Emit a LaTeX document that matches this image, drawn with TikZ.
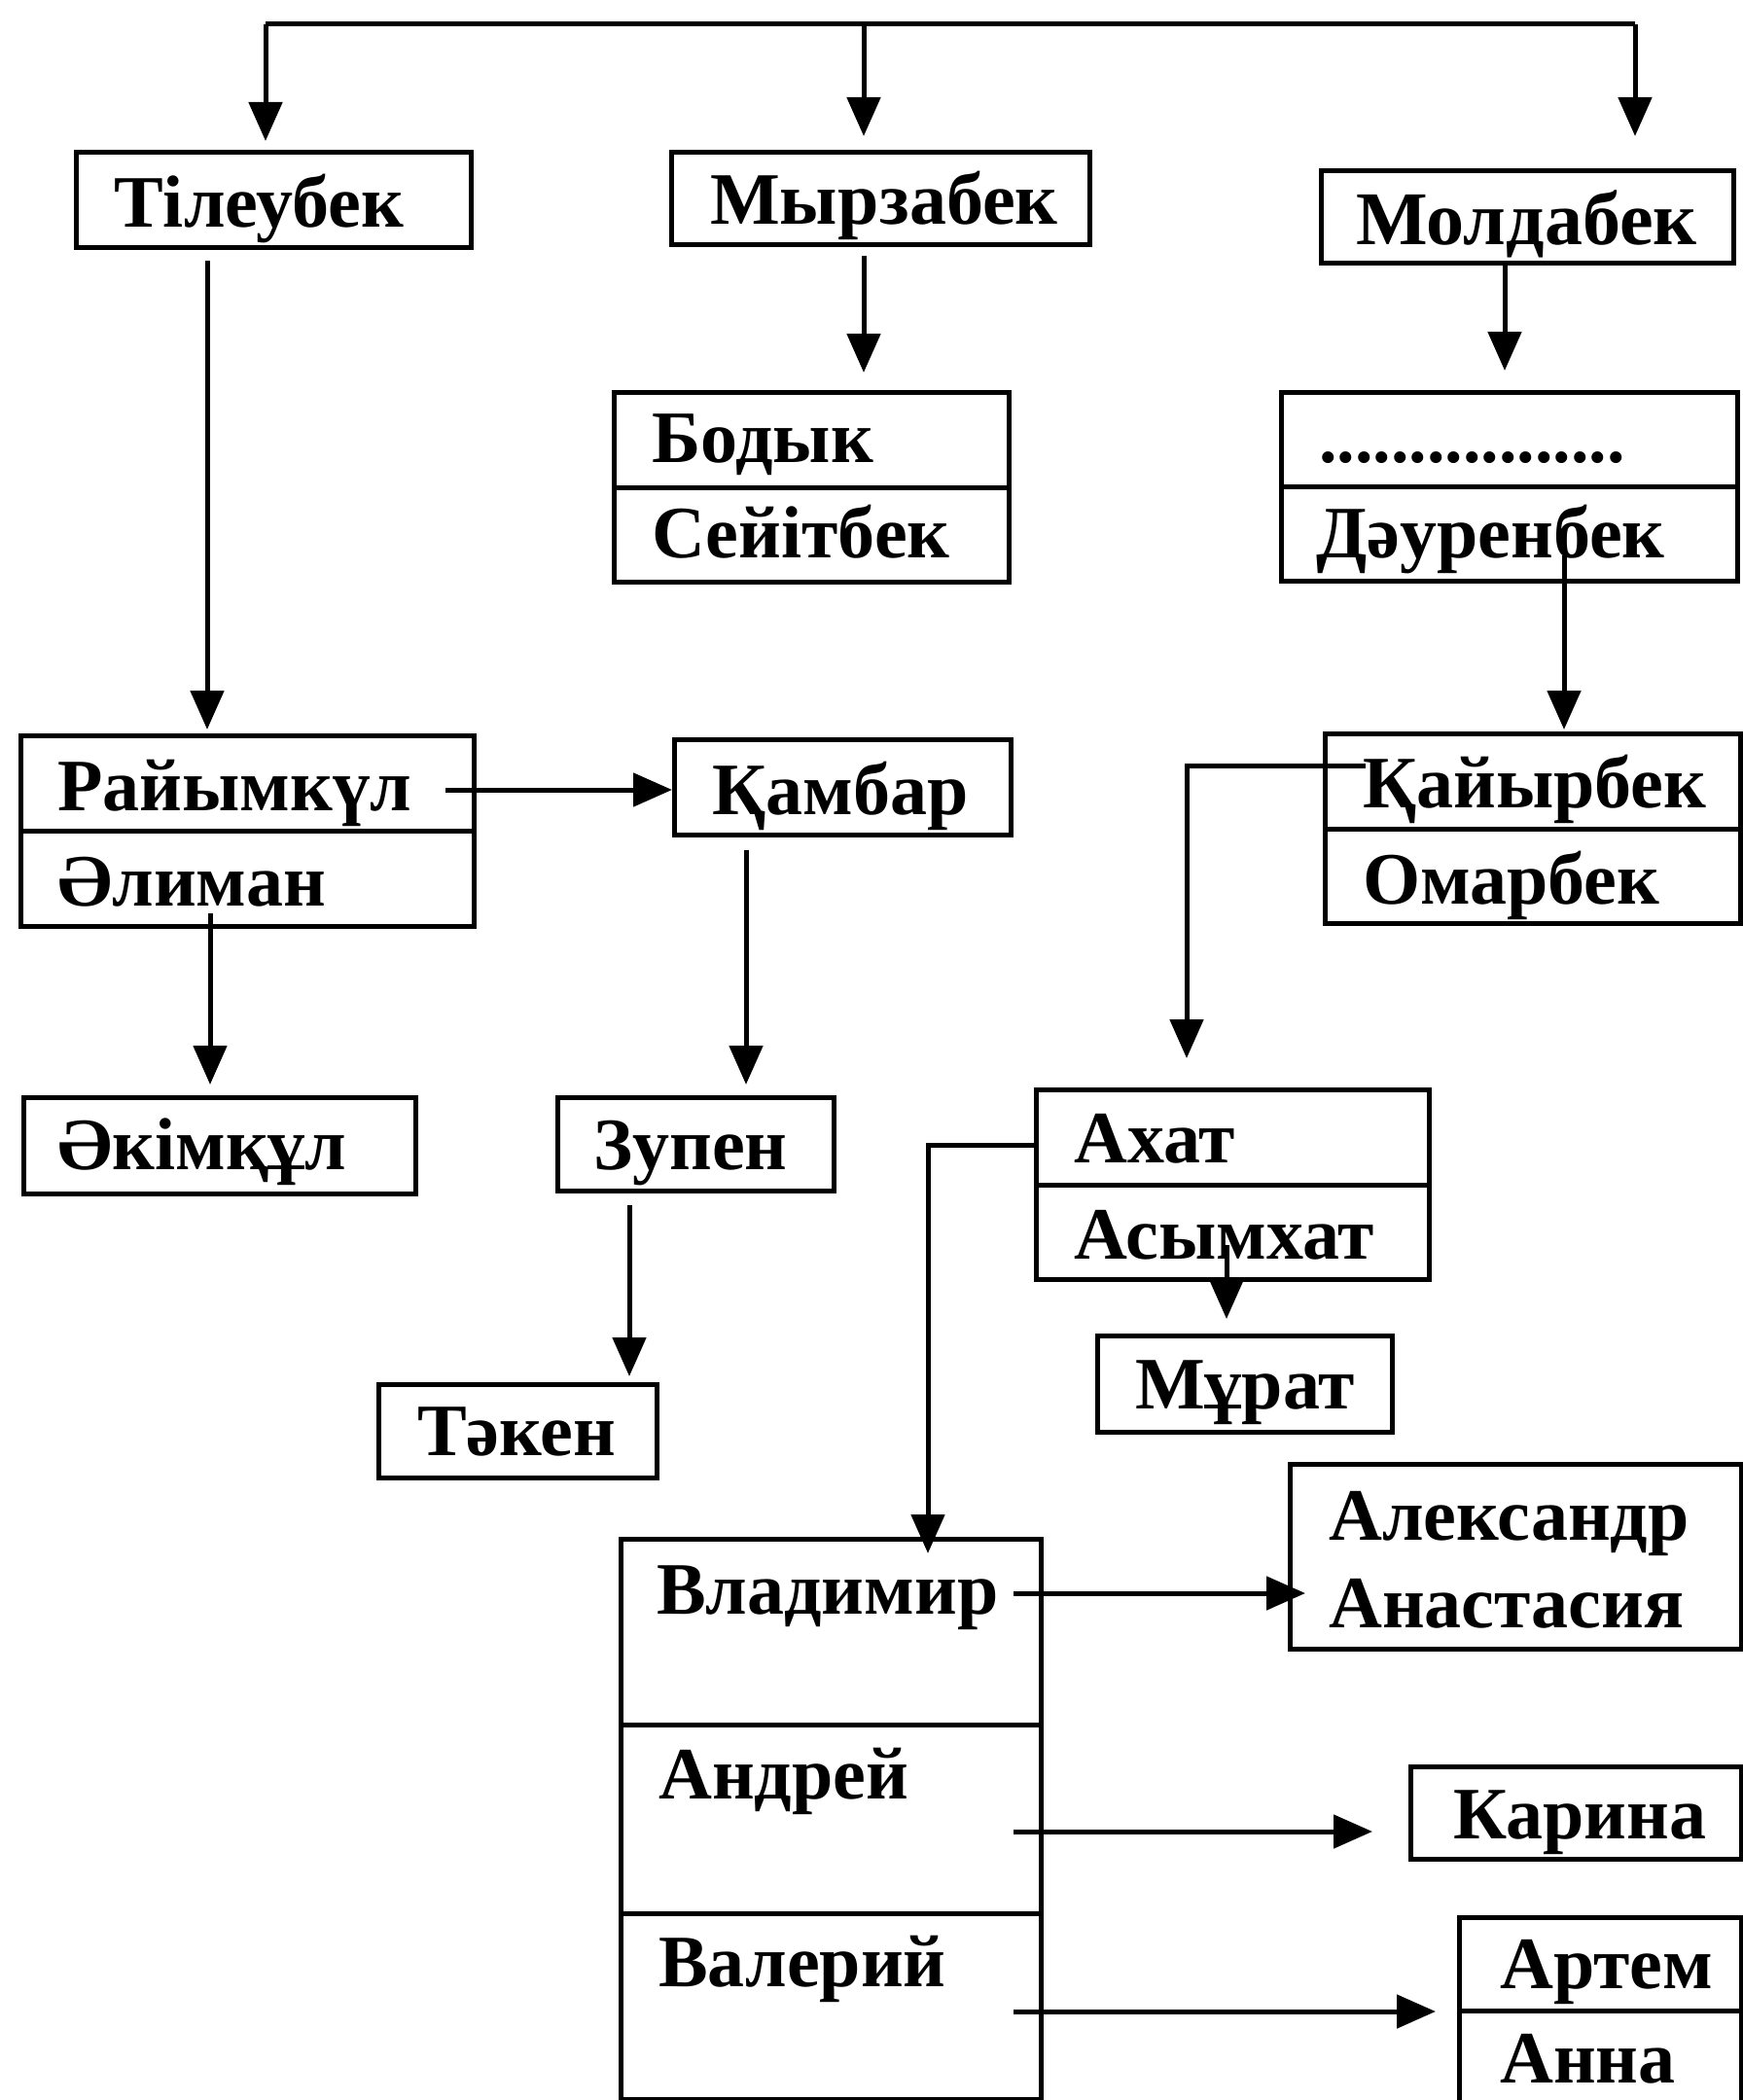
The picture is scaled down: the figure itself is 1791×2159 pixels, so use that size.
\documentclass[tikz,border=0pt]{standalone}
\usepackage{fontspec}
\setmainfont{Liberation Serif}
\usetikzlibrary{arrows.meta,calc}
\begin{document}
\begin{tikzpicture}[x=1pt,y=-1pt,
  box/.style={draw, line width=5pt, inner sep=0pt, anchor=north west},
  lbl/.style={anchor=base west, inner sep=0pt, font=\fontsize{76}{82}\selectfont\bfseries},
  conn/.style={line width=5pt, line join=miter},
  arr/.style={line width=5pt, line join=miter, -{Triangle[length=40pt,width=34pt]}}]
\useasboundingbox[fill=white] (0,0) rectangle (1791,2159);

% boxes
\node[box, minimum width=406pt, minimum height=98pt] (tileubek) at (76,154) {};
\node[box, minimum width=430pt, minimum height=95pt] (myrzabek) at (688,154) {};
\node[box, minimum width=424pt, minimum height=95pt] (moldabek) at (1356,173) {};
\node[box, minimum width=406pt, minimum height=195pt] (bodyk) at (629,401) {};
\node[box, minimum width=469pt, minimum height=194pt] (dauren) at (1315,401) {};
\node[box, minimum width=466pt, minimum height=196pt] (raiym) at (19,754) {};
\node[box, minimum width=346pt, minimum height=98pt] (kambar) at (691,758) {};
\node[box, minimum width=427pt, minimum height=195pt] (kaiyr) at (1360,752) {};
\node[box, minimum width=403pt, minimum height=99pt] (akim) at (22,1126) {};
\node[box, minimum width=284pt, minimum height=96pt] (zupen) at (571,1126) {};
\node[box, minimum width=286pt, minimum height=96pt] (taken) at (387,1421) {};
\node[box, minimum width=404pt, minimum height=195pt] (akhat) at (1063,1118) {};
\node[box, minimum width=303pt, minimum height=99pt] (murat) at (1126,1371) {};
\node[box, minimum width=432pt, minimum height=576pt] (vlad) at (636,1580) {};
\node[box, minimum width=464pt, minimum height=190pt] (alex) at (1324,1503) {};
\node[box, minimum width=340pt, minimum height=95pt] (karina) at (1448,1814) {};
\node[box, minimum width=290pt, minimum height=192pt] (artem) at (1498,1969) {};

% dividers
\draw[conn] (bodyk.west) -- (bodyk.east);
\draw[conn] (dauren.west) -- (dauren.east);
\draw[conn] (raiym.west) -- (raiym.east);
\draw[conn] (kaiyr.west) -- (kaiyr.east);
\draw[conn] (akhat.west) -- (akhat.east);
\draw[conn] (artem.west) -- (artem.east);
\draw[conn] ($(vlad.north west)!1/3!(vlad.south west)$) -- ($(vlad.north east)!1/3!(vlad.south east)$);
\draw[conn] ($(vlad.north west)!2/3!(vlad.south west)$) -- ($(vlad.north east)!2/3!(vlad.south east)$);

% labels
\node[lbl] (t-tileubek) at (117,234) {Тілеубек};
\node[lbl] (t-myrzabek) at (730,231) {Мырзабек};
\node[lbl, font=\fontsize{78}{84}\selectfont\bfseries] (t-moldabek) at (1394,252) {Молдабек};
\node[lbl] (t-bodyk) at (670,475) {Бодык};
\node[lbl] (t-seitbek) at (670,573) {Сейітбек};
\node[lbl, font=\fontsize{74}{80}\selectfont\bfseries] (t-dots) at (1356,475) {.................};
\node[lbl] (t-dauren) at (1353,573) {Дәуренбек};
\node[lbl] (t-raiym) at (59,833) {Райымкүл};
\node[lbl] (t-aliman) at (59,931) {Әлиман};
\node[lbl] (t-kambar) at (732,837) {Қамбар};
\node[lbl] (t-kaiyr) at (1401,830) {Қайырбек};
\node[lbl] (t-omarbek) at (1401,929) {Омарбек};
\node[lbl] (t-akim) at (59,1202) {Әкімқұл};
\node[lbl] (t-zupen) at (610,1202) {Зупен};
\node[lbl] (t-taken) at (429,1496) {Тәкен};
\node[lbl] (t-akhat) at (1104,1195) {Ахат};
\node[lbl] (t-asymkhat) at (1104,1294) {Асымхат};
\node[lbl] (t-murat) at (1167,1448) {Мұрат};
\node[lbl] (t-vlad) at (675,1659) {Владимир};
\node[lbl] (t-andrei) at (677,1849) {Андрей};
\node[lbl] (t-valeri) at (677,2042) {Валерий};
\node[lbl] (t-alex) at (1366,1583) {Александр};
\node[lbl] (t-anast) at (1366,1673) {Анастасия};
\node[lbl] (t-karina) at (1494,1890) {Карина};
\node[lbl] (t-artem) at (1542,2044) {Артем};
\node[lbl] (t-anna) at (1542,2141) {Анна};

% connector points
\coordinate (top-l) at (273,25);
\coordinate (top-m) at (888,25);
\coordinate (top-r) at (1681,25);
\coordinate (c-myrz) at (888,263);
\coordinate (c-mold) at (1547,268);
\coordinate (c-daur) at (1608,571);
\coordinate (c-kaiyr) at (1404,787);
\coordinate (c-kaiyr-turn) at (1220,787);
\coordinate (c-tile) at (213,268);
\coordinate (c-raiym) at (458,812);
\coordinate (c-aliman) at (216,939);
\coordinate (c-kambar) at (767,874);
\coordinate (c-zupen) at (647,1239);
\coordinate (c-asym) at (1261,1280);
\coordinate (c-akhat) at (1067,1177);
\coordinate (c-akhat-turn) at (954,1177);
\coordinate (c-vlad) at (1042,1638);
\coordinate (c-andrei) at (1042,1883);
\coordinate (c-valeri) at (1042,2068);

% connectors
\draw[conn] (top-l) -- (top-r);
\draw[arr, shorten >=9pt] (top-l) -- (top-l |- tileubek.north);
\draw[arr, shorten >=14pt] (top-m) -- (top-m |- myrzabek.north);
\draw[arr, shorten >=33pt] (top-r) -- (top-r |- moldabek.north);
\draw[arr, shorten >=18pt] (c-myrz) -- (c-myrz |- bodyk.north);
\draw[arr, shorten >=20pt] (c-mold) -- (c-mold |- dauren.north);
\draw[arr, shorten >=2pt] (c-daur) -- (c-daur |- kaiyr.north);
\draw[arr, shorten >=30pt] (c-kaiyr) -- (c-kaiyr-turn) -- (c-kaiyr-turn |- akhat.north);
\draw[arr, shorten >=4pt] (c-tile) -- (c-tile |- raiym.north);
\draw[arr] (c-raiym) -- (c-raiym -| kambar.west);
\draw[arr, shorten >=11pt] (c-aliman) -- (c-aliman |- akim.north);
\draw[arr, shorten >=11pt] (c-kambar) -- (c-kambar |- zupen.north);
\draw[arr, shorten >=6pt] (c-zupen) -- (c-zupen |- taken.north);
\draw[arr, shorten >=15pt] (c-asym) -- (c-asym |- murat.north);
\draw[arr, shorten >=-17pt] (c-akhat) -- (c-akhat-turn) -- (c-akhat-turn |- vlad.north);
\draw[arr, shorten >=-18pt] (c-vlad) -- (c-vlad -| alex.west);
\draw[arr, shorten >=37pt] (c-andrei) -- (c-andrei -| karina.west);
\draw[arr, shorten >=22pt] (c-valeri) -- (c-valeri -| artem.west);
\end{tikzpicture}
\end{document}
